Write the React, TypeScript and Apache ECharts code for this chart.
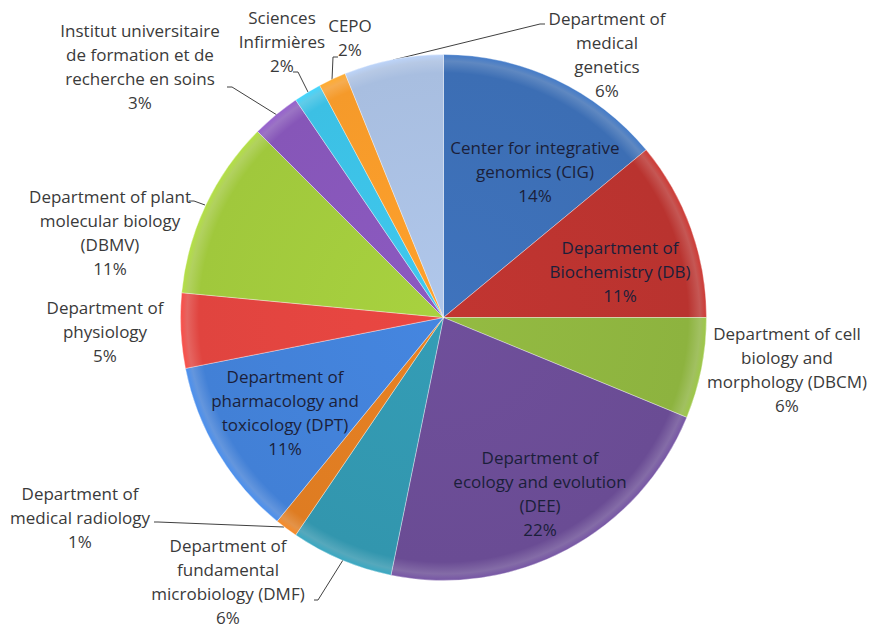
import React, { useEffect, useRef } from "react";
import * as echarts from "echarts";

// Slices, clockwise from 12 o'clock
const categories: string[] = [
  "Center for integrative\ngenomics (CIG)",
  "Department of\nBiochemistry (DB)",
  "Department of cell\nbiology and\nmorphology (DBCM)",
  "Department of\necology and evolution\n(DEE)",
  "Department of\nfundamental\nmicrobiology (DMF)",
  "Department of\nmedical radiology",
  "Department of\npharmacology and\ntoxicology (DPT)",
  "Department of\nphysiology",
  "Department of plant\nmolecular biology\n(DBMV)",
  "Institut universitaire\nde formation et de\nrecherche en soins",
  "Sciences\nInfirmières",
  "CEPO",
  "Department of\nmedical\ngenetics",
];

const shares: number[] = [14.0, 11.0, 6.2, 22.0, 6.3, 1.4, 11.0, 4.6, 11.0, 3.0, 1.7, 1.7, 6.1];

const sliceColors: string[] = [
  "#3C6EB4", "#B9332F", "#8DB33F", "#6A4C94", "#3296AE", "#DE7C22", "#4280D6",
  "#E0443F", "#A0C83C", "#8656B8", "#3CC0E4", "#F59A2A", "#A8BEE0",
];

const insideLabel: boolean[] = [true, true, false, true, false, false, true, false, false, false, false, false, false];
const showLine: boolean[] = [false, false, false, false, true, true, false, false, true, true, true, true, true];

// label block centres (px)
const labelPos: number[][] = [
  [535, 171], [620, 271], [787, 369], [540, 493], [228, 581], [80, 517], [285, 412],
  [105, 331], [110, 232], [140, 66], [282, 41], [350, 37], [607, 54],
];

const leaderLines: (number[][] | null)[] = [
  null, null, null, null,
  [[343, 560], [318, 600], [314, 600]],
  [[284, 527], [158, 522], [154, 522]],
  null, null,
  [[205, 205], [194, 201], [189, 201]],
  [[277, 115], [232, 87], [227, 87]],
  [[308, 92], [298, 72], [293, 72]],
  [[332, 80], [333, 57], [338, 57]],
  [[393, 60], [540, 24], [545, 24]],
];

const CX = 443.5;
const CY = 317.5;
const R = 263;

export default function App() {
  const ref = useRef<HTMLDivElement>(null);

  useEffect(() => {
    if (!ref.current) return;
    const chart = echarts.init(ref.current, undefined, { renderer: "svg" });

    const data = shares.map((v, i) => {
      const base = sliceColors[i];
      const grad = new echarts.graphic.RadialGradient(
        CX,
        CY,
        R,
        [
          { offset: 0, color: echarts.color.lift(base, -0.05) },
          { offset: 0.93, color: base },
          { offset: 0.975, color: echarts.color.lift(base, 0.18) },
          { offset: 1, color: echarts.color.lift(base, -0.12) },
        ],
        true
      );
      return {
        value: v,
        name: categories[i],
        itemStyle: { color: grad },
        label: { color: insideLabel[i] ? "#1B1F3A" : "#3A3A3A" },
        labelLine: { show: showLine[i] },
      };
    });

    chart.setOption({
      animation: false,
      backgroundColor: "#ffffff",
      series: [
        {
          type: "pie",
          center: [CX, CY],
          radius: [0, R],
          startAngle: 90,
          clockwise: true,
          avoidLabelOverlap: false,
          itemStyle: { borderColor: "rgba(255,255,255,0.35)", borderWidth: 1 },
          label: {
            show: true,
            position: "outside",
            fontFamily: "Open Sans",
            fontSize: 17,
            lineHeight: 24,
            align: "center",
            formatter: (p: any) => `${p.name}\n${Math.round(p.percent)}%`,
          },
          labelLine: {
            show: true,
            lineStyle: { color: "#404040", width: 1 },
          },
          labelLayout: (params: any) => {
            const i = params.dataIndex;
            const pos = labelPos[i];
            const out: any = {
              x: pos[0],
              y: pos[1],
              align: "center",
              verticalAlign: "middle",
            };
            if (leaderLines[i]) out.labelLinePoints = leaderLines[i];
            return out;
          },
          data,
        },
      ],
    });

    return () => chart.dispose();
  }, []);

  return (
    <div
      ref={ref}
      style={{ position: "fixed", left: 0, top: 0, width: 872, height: 628 }}
    />
  );
}
